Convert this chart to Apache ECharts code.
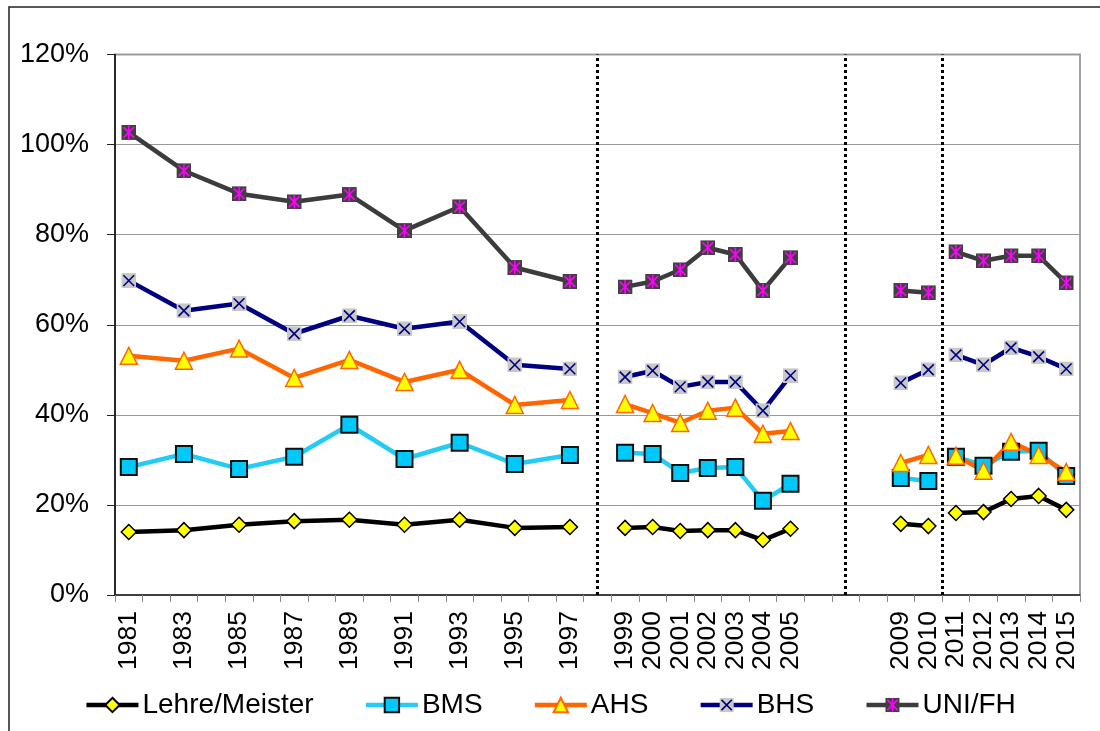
<!DOCTYPE html>
<html>
<head>
<meta charset="utf-8">
<script src="https://cdn.jsdelivr.net/npm/echarts@6/dist/echarts.min.js"></script>
<style>
html,body{margin:0;padding:0;background:#fff;}
#chart{width:1100px;height:731px;}
</style>
</head>
<body>
<div id="chart"></div>
<script>
// ---- data ----
const categories = ['1981','1982','1983','1984','1985','1986','1987','1988','1989','1990','1991','1992','1993','1994','1995','1996','1997','1998','1999','2000','2001','2002','2003','2004','2005','2006','2007','2008','2009','2010','2011','2012','2013','2014','2015'];
const tickLabels = ['1981','1983','1985','1987','1989','1991','1993','1995','1997','1999','2000','2001','2002','2003','2004','2005','2009','2010','2011','2012','2013','2014','2015'];
// null entries mark breaks between segments
const pointYears = ['1981','1983','1985','1987','1989','1991','1993','1995','1997', null, '1999','2000','2001','2002','2003','2004','2005', null, '2009','2010', null, '2011','2012','2013','2014','2015'];
const lehre = [14.0,14.4,15.6,16.4,16.7,15.6,16.7,14.9,15.1, null, 14.9,15.1,14.2,14.4,14.4,12.2,14.7, null, 15.8,15.3, null, 18.2,18.4,21.3,22.0,18.9];
const bms   = [28.4,31.3,28.0,30.7,37.8,30.2,33.8,29.1,31.1, null, 31.6,31.3,27.1,28.2,28.4,20.9,24.7, null, 26.0,25.3, null, 30.7,28.7,31.8,32.0,26.4];
const ahs   = [53.1,52.0,54.7,48.2,52.2,47.3,50.0,42.2,43.3, null, 42.4,40.4,38.2,40.9,41.6,35.8,36.4, null, 29.3,31.1, null, 30.9,27.6,34.0,31.1,27.3];
const bhs   = [69.8,63.1,64.7,58.0,62.0,59.1,60.7,51.1,50.2, null, 48.4,49.8,46.2,47.3,47.3,40.9,48.7, null, 47.1,50.0, null, 53.3,51.1,54.9,52.9,50.2];
const uni   = [102.7,94.2,89.1,87.3,88.9,80.9,86.2,72.7,69.6, null, 68.4,69.6,72.2,77.1,75.6,67.6,74.9, null, 67.6,67.1, null, 76.2,74.2,75.3,75.3,69.3];
const seriesNames = ['Lehre/Meister','BMS','AHS','BHS','UNI/FH'];
const dividerPositions = [1998, 2007, 2010.5];

// ---- build ----
function toData(vals){
  let prev = pointYears[0];
  return pointYears.map((y,i)=>{
    if (y === null) return [prev, '-'];
    prev = y;
    return [y, vals[i]];
  });
}
function svgSymbol(svg){
  return 'image://data:image/svg+xml;charset=utf-8,' + encodeURIComponent(svg);
}
const bhsSym = svgSymbol("<svg xmlns='http://www.w3.org/2000/svg' width='28' height='28' viewBox='0 0 28 28'><rect width='28' height='28' fill='#C8C8C8'/><path d='M4 4L24 24M24 4L4 24' stroke='#000080' stroke-width='3'/></svg>");
const uniSym = svgSymbol("<svg xmlns='http://www.w3.org/2000/svg' width='28' height='28' viewBox='0 0 28 28'><rect width='28' height='28' fill='#404040'/><path d='M4 4L24 24M24 4L4 24M14 1L14 27' stroke='#FF00FF' stroke-width='3'/></svg>");

const font = "'Liberation Sans', Arial, sans-serif";
const chart = echarts.init(document.getElementById('chart'));

function lineSeries(name, vals, color, width, symbol, size, itemStyle){
  return {
    name, type:'line', data: toData(vals), connectNulls:false,
    symbol, symbolSize:size, showAllSymbol:true,
    lineStyle:{color, width},
    itemStyle,
    emphasis:{disabled:true},
    z: 3
  };
}

chart.setOption({
  animation:false,
  backgroundColor:'#fff',
  textStyle:{fontFamily:font},
  graphic:[{
    type:'rect', shape:{x:9,y:7,width:1300,height:1000},
    style:{fill:'none', stroke:'#222', lineWidth:1.5}, silent:true, z:-10
  }],
  grid:{left:115, right:20, top:54.5, bottom:136, show:true, borderColor:'#A0A0A0', borderWidth:2, backgroundColor:'transparent', containLabel:false},
  legend:{
    data: seriesNames,
    bottom: 7, left:'center',
    itemWidth:52, itemHeight:18, itemGap:50,
    lineStyle:{width:4.5},
    textStyle:{fontSize:28, color:'#000', fontFamily:font, padding:[0,0,0,-1]}
  },
  xAxis:[{
    type:'category', data:categories, boundaryGap:true,
    axisLine:{show:true, lineStyle:{color:'#222', width:1.5}},
    axisTick:{show:true, interval:0, length:7, lineStyle:{color:'#888'}},
    axisLabel:{interval:0, rotate:90, margin:16, fontSize:26.5, color:'#000', fontFamily:font,
      formatter:(v)=> tickLabels.includes(v) ? v : ''},
    splitLine:{show:false}
  },{
    type:'value', min:1980.5, max:2015.5, show:false
  }],
  yAxis:{
    type:'value', min:0, max:120, interval:20,
    axisLine:{show:true, lineStyle:{color:'#000', width:1.5}},
    axisTick:{show:true, length:8, lineStyle:{color:'#222'}},
    axisLabel:{formatter:'{value}%', fontSize:27, color:'#000', margin:26, fontFamily:font},
    splitLine:{show:true, lineStyle:{color:'#999', width:1}}
  },
  series:[
    lineSeries('Lehre/Meister', lehre, '#000000', 4.5, 'diamond', 15, {color:'#FFFF00', borderColor:'#000', borderWidth:1.5}),
    lineSeries('BMS', bms, '#22CCF5', 4.5, 'rect', 16, {color:'#00C8F8', borderColor:'#111', borderWidth:2}),
    lineSeries('AHS', ahs, '#FF6600', 4.5, 'triangle', 17, {color:'#FFFF00', borderColor:'#FF6600', borderWidth:1.5}),
    lineSeries('BHS', bhs, '#000080', 4.5, bhsSym, 15, {color:'#000080'}),
    lineSeries('UNI/FH', uni, '#3C3C3C', 4.5, uniSym, 15, {color:'#3C3C3C'}),
    {
      type:'line', xAxisIndex:1, data:[], silent:true,
      markLine:{
        symbol:'none', silent:true, label:{show:false}, animation:false,
        lineStyle:{color:'#000', type:[3,3], width:3},
        emphasis:{disabled:true},
        data: dividerPositions.map(v=>({xAxis:v}))
      }
    }
  ]
});
</script>
</body>
</html>
